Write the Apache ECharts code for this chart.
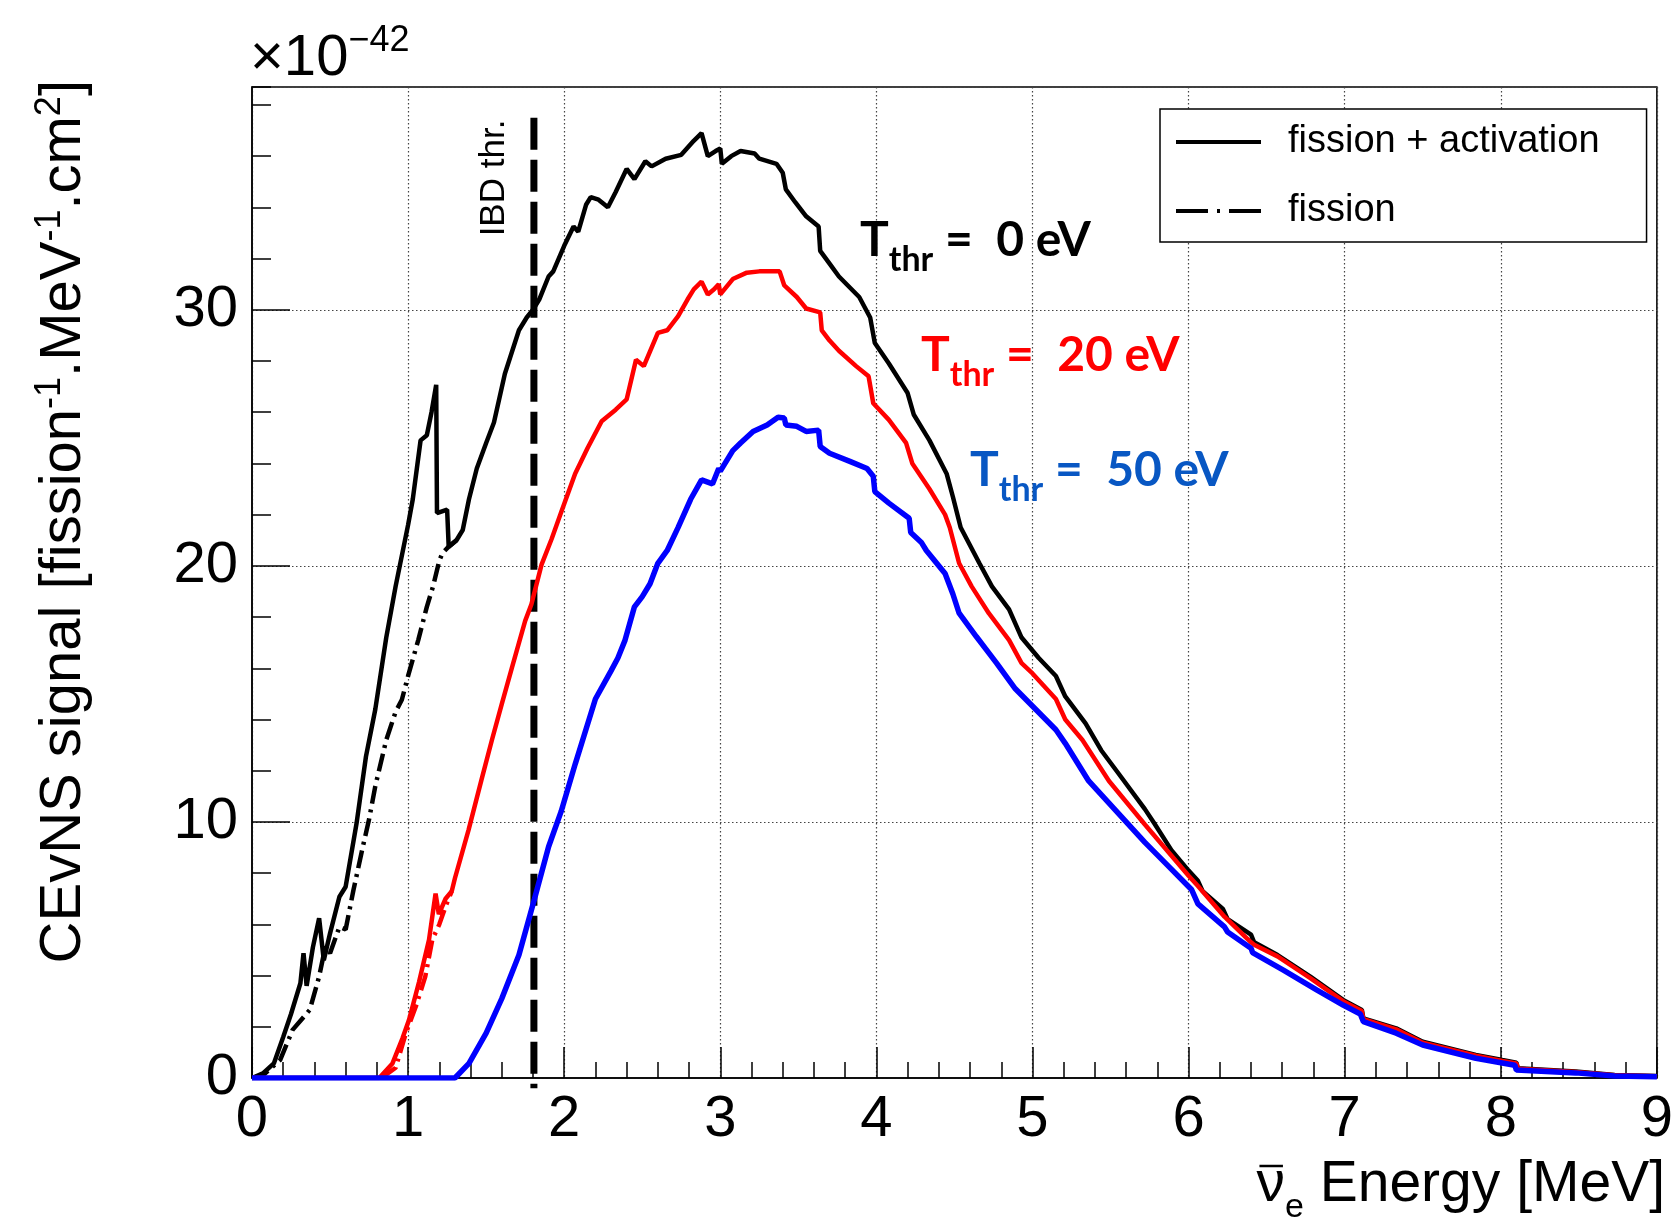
<!DOCTYPE html>
<html>
<head>
<meta charset="utf-8">
<title>CEvNS signal</title>
<script src="https://cdn.jsdelivr.net/npm/echarts/dist/echarts.min.js"></script>
<style>
  html, body { margin: 0; padding: 0; background: #fff; }
  #chart { width: 1676px; height: 1222px; }
</style>
</head>
<body>
<div id="chart"></div>
<script>
// antineutrino energy [MeV] / CEvNS signal [x1e-42 fission^-1 MeV^-1 cm^2]

// T_thr = 0 eV, fission + activation
const totE = [0, 0.07, 0.14, 0.2, 0.25, 0.31, 0.33, 0.35, 0.39, 0.43,
  0.46, 0.5, 0.56, 0.6, 0.67, 0.73, 0.79, 0.86, 0.92, 0.96,
  1.0, 1.03, 1.08, 1.12, 1.15, 1.18, 1.185, 1.25, 1.26, 1.31,
  1.35, 1.39, 1.44, 1.5, 1.55, 1.62, 1.71, 1.76, 1.8, 1.84,
  1.9, 1.93, 2.0, 2.06, 2.09, 2.14, 2.17, 2.22, 2.28, 2.33,
  2.4, 2.45, 2.52, 2.56, 2.65, 2.75, 2.83, 2.88, 2.92, 2.97,
  3.0, 3.01, 3.07, 3.13, 3.22, 3.25, 3.36, 3.4, 3.42, 3.48,
  3.55, 3.63, 3.64, 3.7, 3.76, 3.89, 3.96, 3.99, 4.08, 4.2,
  4.24, 4.34, 4.45, 4.49, 4.54, 4.66, 4.74, 4.85, 4.93, 5.04,
  5.15, 5.21, 5.34, 5.44, 5.55, 5.72, 5.78, 5.89, 6.0, 6.06,
  6.09, 6.22, 6.25, 6.4, 6.42, 6.57, 6.78, 6.99, 7.11, 7.12,
  7.33, 7.5, 7.84, 8.01, 8.1, 8.11, 8.48, 8.73, 9.0]
const totV = [0, 0.18, 0.57, 1.6, 2.5, 3.7, 4.87, 3.6, 5.1, 6.24,
  4.6, 5.65, 7.08, 7.47, 9.95, 12.55, 14.4, 17.2, 19.2, 20.4,
  21.6, 22.6, 24.9, 25.1, 26.0, 27.07, 22.06, 22.2, 20.75, 21.0,
  21.4, 22.6, 23.8, 24.8, 25.6, 27.5, 29.2, 29.7, 30.0, 30.4,
  31.3, 31.5, 32.5, 33.25, 33.05, 34.1, 34.4, 34.3, 34.0, 34.6,
  35.5, 35.1, 35.8, 35.6, 35.9, 36.05, 36.6, 36.9, 36.0, 36.2,
  36.3, 35.7, 36.0, 36.2, 36.1, 35.9, 35.7, 35.35, 34.7, 34.2,
  33.65, 33.25, 32.3, 31.8, 31.3, 30.5, 29.7, 28.7, 27.9, 26.75,
  25.9, 24.9, 23.6, 22.7, 21.5, 20.1, 19.2, 18.3, 17.2, 16.4,
  15.7, 14.9, 13.85, 12.8, 11.9, 10.5, 9.95, 8.9, 8.1, 7.7,
  7.3, 6.6, 6.2, 5.6, 5.3, 4.8, 3.96, 3.05, 2.66, 2.33,
  1.94, 1.42, 0.9, 0.7, 0.6, 0.38, 0.25, 0.12, 0.08]

// T_thr = 0 eV, fission only
const fisE = [0, 0.07, 0.18, 0.26, 0.37, 0.43, 0.47, 0.5, 0.56, 0.6,
  0.65, 0.71, 0.75, 0.79, 0.86, 0.92, 0.96, 1.0, 1.065, 1.12,
  1.16, 1.2, 1.22, 1.26, 1.31]
const fisV = [0, 0.1, 0.7, 1.88, 2.66, 3.96, 5.13, 4.87, 5.9, 5.8,
  7.34, 9.03, 10.1, 11.4, 13.2, 14.3, 14.77, 15.7, 17.1, 18.4,
  19.2, 20.2, 20.5, 20.75, 21.0]

// T_thr = 20 eV, fission + activation
const t20E = [0, 0.815, 0.9, 0.964, 1.006, 1.07, 1.134, 1.176, 1.197, 1.24,
  1.28, 1.3, 1.388, 1.47, 1.537, 1.6, 1.664, 1.75, 1.79, 1.855,
  1.92, 1.98, 2.07, 2.15, 2.24, 2.33, 2.4, 2.46, 2.51, 2.6,
  2.66, 2.73, 2.79, 2.83, 2.88, 2.92, 2.96, 2.99, 3.0, 3.08,
  3.17, 3.25, 3.38, 3.41, 3.49, 3.55, 3.64, 3.65, 3.7, 3.76,
  3.87, 3.95, 3.98, 4.08, 4.19, 4.23, 4.34, 4.44, 4.47, 4.53,
  4.61, 4.72, 4.85, 4.93, 5.0, 5.15, 5.21, 5.32, 5.49, 5.72,
  6.0, 6.06, 6.23, 6.4, 6.42, 6.57, 6.78, 6.99, 7.11, 7.12,
  7.33, 7.5, 7.84, 8.01, 8.1, 8.11, 8.48, 8.73, 9.0]
const t20V = [0, 0, 0.57, 1.55, 2.27, 3.75, 5.4, 7.2, 6.4, 7.0,
  7.3, 7.8, 9.7, 11.64, 13.2, 14.6, 16.0, 17.85, 18.5, 20.05,
  21.06, 22.08, 23.6, 24.6, 25.65, 26.1, 26.5, 28.05, 27.8, 29.1,
  29.2, 29.75, 30.4, 30.8, 31.1, 30.6, 30.8, 31.0, 30.6, 31.2,
  31.45, 31.5, 31.5, 30.95, 30.5, 30.05, 29.9, 29.2, 28.8, 28.4,
  27.8, 27.4, 26.35, 25.7, 24.8, 24.0, 23.0, 22.0, 21.5, 20.1,
  19.2, 18.15, 17.1, 16.2, 15.8, 14.8, 14.0, 13.2, 11.6, 9.9,
  7.9, 7.5, 6.3, 5.3, 5.2, 4.75, 3.9, 3.0, 2.62, 2.3,
  1.9, 1.38, 0.87, 0.67, 0.57, 0.36, 0.23, 0.11, 0.07]

// T_thr = 20 eV, fission only
const f20E = [0.83, 0.92, 0.985, 1.05, 1.11, 1.155, 1.2, 1.24, 1.28]
const f20V = [0, 0.4, 1.74, 2.8, 3.96, 5.4, 6.0, 6.7, 7.3]

// T_thr = 50 eV
const t50E = [0, 1.3, 1.39, 1.5, 1.6, 1.71, 1.81, 1.9, 1.98, 2.07,
  2.2, 2.3, 2.344, 2.39, 2.45, 2.5, 2.55, 2.6, 2.66, 2.73,
  2.81, 2.88, 2.95, 2.99, 3.0, 3.08, 3.13, 3.21, 3.3, 3.37,
  3.41, 3.42, 3.49, 3.55, 3.63, 3.64, 3.7, 3.83, 3.94, 3.98,
  3.99, 4.08, 4.21, 4.22, 4.29, 4.32, 4.44, 4.49, 4.53, 4.64,
  4.72, 4.77, 4.89, 5.02, 5.15, 5.21, 5.36, 5.72, 5.85, 6.02,
  6.06, 6.23, 6.25, 6.4, 6.41, 6.61, 6.82, 6.99, 7.1, 7.12,
  7.33, 7.5, 7.84, 8.09, 8.1, 8.48, 8.73, 9.0]
const t50V = [0, 0, 0.57, 1.75, 3.1, 4.8, 7.0, 9.03, 10.4, 12.25,
  14.8, 15.9, 16.4, 17.1, 18.4, 18.8, 19.3, 20.1, 20.6, 21.5,
  22.6, 23.36, 23.2, 23.8, 23.7, 24.5, 24.8, 25.25, 25.5, 25.8,
  25.77, 25.5, 25.45, 25.25, 25.3, 24.66, 24.4, 24.08, 23.8, 23.5,
  22.9, 22.45, 21.86, 21.3, 20.9, 20.6, 19.7, 18.9, 18.15, 17.24,
  16.6, 16.2, 15.2, 14.4, 13.6, 13.07, 11.6, 9.2, 8.4, 7.35,
  6.8, 5.9, 5.7, 5.07, 4.9, 4.2, 3.44, 2.85, 2.5, 2.2,
  1.75, 1.29, 0.77, 0.5, 0.31, 0.2, 0.08, 0.05]

// IBD threshold line
const ibdE = [1.806, 1.806]
const ibdV = [37.5, -0.4]

const font = 'Liberation Sans, Arial, sans-serif'
const dashDot = [18, 6, 3, 6]
const pairs = (xs, ys) => xs.map((x, i) => [x, ys[i]])

// 测量文字宽度，用来给 ν 画上横线
const ctx = document.createElement('canvas').getContext('2d')
function textWidth (str, size) {
  ctx.font = size + 'px ' + font
  return ctx.measureText(str).width
}
const nuRight = 1665 - textWidth(' Energy [MeV]', 57) - textWidth('e', 34)
const nuLeft = nuRight - textWidth('ν', 57)

const chart = echarts.init(document.getElementById('chart'))

// 阈值标注
function thrLabel (text, x, y, color) {
  return {
    type: 'text', x: x, y: y, z: 100,
    style: {
      text: text,
      fill: color,
      fontSize: 48, fontWeight: 'bold', fontFamily: 'Lato, Open Sans, sans-serif',
      lineHeight: 60,
      align: 'left', verticalAlign: 'middle',
      rich: {
        s: { fontSize: 34, fontWeight: 'bold', fontFamily: 'Lato, Open Sans, sans-serif', fill: color, verticalAlign: 'bottom', height: 22 }
      }
    }
  }
}

const option = {
  animation: false,
  backgroundColor: '#fff',
  grid: {
    left: 252, right: 10, top: 87, bottom: 144,
    show: true, borderColor: '#000', borderWidth: 1.5
  },
  xAxis: {
    type: 'value', min: 0, max: 9, interval: 1,
    axisLine: { onZero: false, lineStyle: { color: '#000', width: 1.5 } },
    axisTick: { inside: true, length: 31, lineStyle: { color: '#000', width: 1.5 } },
    minorTick: { show: true, splitNumber: 5, length: 16, lineStyle: { color: '#000', width: 1.5 } },
    axisLabel: { fontSize: 58, fontFamily: font, color: '#000', margin: 13 },
    splitLine: { show: true, lineStyle: { color: '#444', width: 1.2, type: [1.5, 2.5] } }
  },
  yAxis: [
    {
      type: 'value', min: 0, max: 38.7, interval: 10,
      axisLine: { show: true, onZero: false, lineStyle: { color: '#000', width: 1.5 } },
      axisTick: { inside: true, length: 38, lineStyle: { color: '#000', width: 1.5 } },
      axisLabel: { fontSize: 58, fontFamily: font, color: '#000', margin: 14, showMaxLabel: false },
      splitLine: { show: true, lineStyle: { color: '#444', width: 1.2, type: [1.5, 2.5] } }
    },
    {
      // minor ticks every 2
      type: 'value', min: 0, max: 38.7, interval: 2, position: 'left', offset: 0,
      axisLine: { show: false },
      axisTick: { inside: true, length: 19, lineStyle: { color: '#000', width: 1.5 } },
      axisLabel: { show: false },
      splitLine: { show: false }
    }
  ],
  legend: {
    data: [
      { name: 'fission + activation', icon: 'path://M0,0H85V4H0Z' },
      { name: 'fission', icon: 'path://M0,0H32V4H0Z M41,0H44V4H41Z M53,0H85V4H53Z' }
    ],
    orient: 'vertical', left: 1160, top: 109,
    padding: [13, 47, 11, 16],
    itemWidth: 85, itemHeight: 4, itemGap: 29,
    backgroundColor: '#fff', borderColor: '#000', borderWidth: 1.5,
    selectedMode: false,
    itemStyle: { color: '#000', borderWidth: 0 },
    textStyle: { fontSize: 38, fontFamily: font, color: '#000', padding: [0, 0, 0, 22], lineHeight: 40 }
  },
  series: [
    {
      name: 'IBD', type: 'line', data: pairs(ibdE, ibdV), symbol: 'none', clip: false,
      lineStyle: { color: '#000', width: 7, type: [32, 10] }, silent: true
    },
    {
      name: 'fission + activation', type: 'line', data: pairs(totE, totV), symbol: 'none',
      lineStyle: { color: '#000', width: 4.5 }, itemStyle: { color: '#000' }
    },
    {
      name: 'fission', type: 'line', data: pairs(fisE, fisV), symbol: 'none',
      lineStyle: { color: '#000', width: 4.5, type: dashDot }, itemStyle: { color: '#000' }
    },
    {
      name: 'T20', type: 'line', data: pairs(t20E, t20V), symbol: 'none',
      lineStyle: { color: '#ff0000', width: 4.5 }
    },
    {
      name: 'T20 fission', type: 'line', data: pairs(f20E, f20V), symbol: 'none',
      lineStyle: { color: '#ff0000', width: 4.5, type: dashDot }
    },
    {
      name: 'T50', type: 'line', data: pairs(t50E, t50V), symbol: 'none',
      lineStyle: { color: '#0000ff', width: 5.5 }
    }
  ],
  graphic: [
    {
      type: 'text', x: 250, y: 59, z: 100,
      style: {
        text: '×10{sup|−42}', fill: '#000',
        fontSize: 58, fontFamily: font, lineHeight: 60,
        align: 'left', verticalAlign: 'middle',
        rich: { sup: { fontSize: 36, fontFamily: font, verticalAlign: 'top', height: 24 } }
      }
    },
    {
      type: 'text', x: 64, y: 80, rotation: Math.PI / 2, z: 100,
      style: {
        text: 'CEvNS signal [fission{sup|-1}.MeV{sup|-1}.cm{sup|2}]', fill: '#000',
        fontSize: 58, fontFamily: font, lineHeight: 60,
        align: 'right', verticalAlign: 'middle',
        rich: { sup: { fontSize: 36, fontFamily: font, verticalAlign: 'top', height: 32 } }
      }
    },
    {
      type: 'text', x: 1665, y: 1185, z: 100,
      style: {
        text: 'ν{sub|e} Energy [MeV]', fill: '#000',
        fontSize: 57, fontFamily: font, lineHeight: 60,
        align: 'right', verticalAlign: 'middle',
        rich: { sub: { fontSize: 34, fontFamily: font, verticalAlign: 'bottom', height: 14 } }
      }
    },
    {
      // bar over ν
      type: 'line', z: 100,
      shape: { x1: nuLeft + 3, y1: 1166, x2: nuRight - 2, y2: 1166 },
      style: { stroke: '#000', lineWidth: 2.5 }
    },
    {
      type: 'text', x: 494, y: 178, rotation: Math.PI / 2, z: 100,
      style: {
        text: 'IBD thr.', fill: '#000',
        fontSize: 35, fontFamily: font,
        align: 'center', verticalAlign: 'middle'
      }
    },
    thrLabel('T{s|thr} =  0 eV', 860, 241, '#000'),
    thrLabel('T{s|thr} =  20 eV', 921, 356, '#ff0000'),
    thrLabel('T{s|thr} =  50 eV', 970, 471, '#0857c3')
  ]
}

chart.setOption(option)
</script>
</body>
</html>
